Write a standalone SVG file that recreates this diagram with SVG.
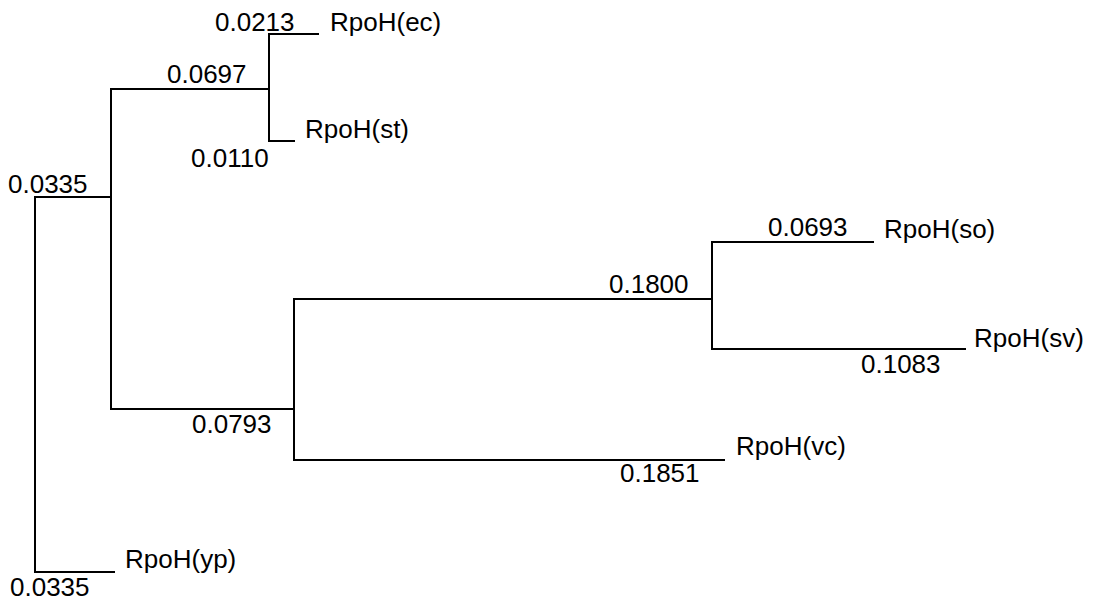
<svg xmlns="http://www.w3.org/2000/svg" width="1095" height="600" viewBox="0 0 1095 600">
<style>
.e{stroke:#000;stroke-width:2;fill:none;stroke-linecap:square}
text{font-family:"Liberation Sans",Arial,sans-serif;font-size:26px;fill:#000}
</style>
<rect width="1095" height="600" fill="#fff"/>
<g id="connectors">
<path class="e" d="M35,197 V572"/>
<path class="e" d="M35,197 H111"/>
<path class="e" d="M35,572 H114"/>
<path class="e" d="M111,89 V409"/>
<path class="e" d="M111,89 H269"/>
<path class="e" d="M269,34 V141"/>
<path class="e" d="M269,34 H318"/>
<path class="e" d="M269,141 H294"/>
<path class="e" d="M111,409 H294"/>
<path class="e" d="M294,299 V460"/>
<path class="e" d="M294,299 H712"/>
<path class="e" d="M712,242 V349"/>
<path class="e" d="M712,242 H873"/>
<path class="e" d="M712,349 H965"/>
<path class="e" d="M294,460 H724"/>
</g>
<g id="edge-labels">
<text x="215" y="31">0.0213</text>
<text x="167" y="83">0.0697</text>
<text x="191" y="167">0.0110</text>
<text x="8" y="193">0.0335</text>
<text x="192" y="433">0.0793</text>
<text x="10" y="596">0.0335</text>
<text x="609" y="293">0.1800</text>
<text x="768" y="236">0.0693</text>
<text x="861" y="373">0.1083</text>
<text x="620" y="482">0.1851</text>
</g>
<g id="node-ec"><text x="330" y="31">RpoH(ec)</text></g>
<g id="node-st"><text x="305" y="138">RpoH(st)</text></g>
<g id="node-so"><text x="884" y="238">RpoH(so)</text></g>
<g id="node-sv"><text x="974" y="347">RpoH(sv)</text></g>
<g id="node-vc"><text x="736" y="455">RpoH(vc)</text></g>
<g id="node-yp"><text x="125" y="568">RpoH(yp)</text></g>
</svg>
